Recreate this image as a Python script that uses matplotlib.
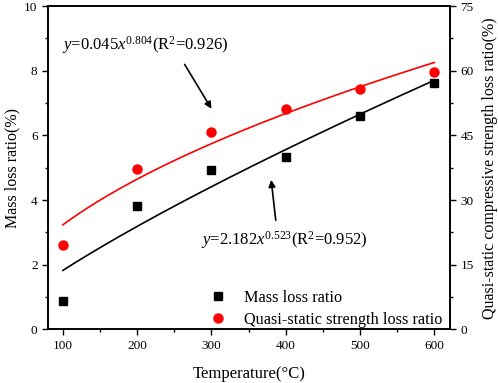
import numpy as np
import matplotlib.pyplot as plt
from matplotlib.ticker import MultipleLocator
from matplotlib.lines import Line2D

plt.rcParams['font.family'] = ['Liberation Serif', 'DejaVu Serif']
plt.rcParams['mathtext.fontset'] = 'custom'
plt.rcParams['mathtext.rm'] = 'Liberation Serif'
plt.rcParams['mathtext.it'] = 'Liberation Serif:italic'

# Data
temperature = [100, 200, 300, 400, 500, 600]
mass_loss = [0.88, 3.83, 4.93, 5.33, 6.61, 7.63]            # %, left axis
strength_loss = [19.6, 37.2, 45.8, 51.2, 55.8, 59.8]       # %, right axis

# Power-law fit parameters as printed on the chart
mass_fit = (0.045, 0.804)
strength_fit = (2.182, 0.523)

fig = plt.figure(figsize=(4.98, 3.83), dpi=100)
ax = fig.add_axes([0.0964, 0.140, 0.807, 0.844])
ax2 = ax.twinx()

t_fit = np.linspace(100, 600, 200)
ax.plot(t_fit, mass_fit[0] * t_fit ** mass_fit[1], color='black', lw=1.2, zorder=2)
ax2.plot(t_fit, strength_fit[0] * t_fit ** strength_fit[1], color='red', lw=1.2, zorder=2)

ax.plot(temperature, mass_loss, 's', color='black', ms=5.5, zorder=3)
ax2.plot(temperature, strength_loss, 'o', color='red', ms=6.5, zorder=3)

ax.set_xlim(80, 621)
ax.set_ylim(0, 10)
ax2.set_ylim(0, 75)

ax.xaxis.set_major_locator(MultipleLocator(100))
ax.xaxis.set_minor_locator(MultipleLocator(50))
ax.yaxis.set_major_locator(MultipleLocator(2))
ax.yaxis.set_minor_locator(MultipleLocator(1))
ax2.yaxis.set_major_locator(MultipleLocator(15))
ax2.yaxis.set_minor_locator(MultipleLocator(7.5))

for a in (ax, ax2):
    a.tick_params(which='major', direction='out', length=4, width=1, labelsize=9.5)
    a.tick_params(which='minor', direction='out', length=2.5, width=1)
    for s in a.spines.values():
        s.set_linewidth(1.2)

ax.set_xlabel('Temperature(°C)', fontsize=12, labelpad=10)
ax.set_ylabel('Mass loss ratio(%)', fontsize=11.5, labelpad=3)
ax2.set_ylabel('Quasi-static compressive strength loss ratio(%)', fontsize=11.5, labelpad=6)

ax.text(0.035, 0.88, r'$\mathit{y}$=0.045$\mathit{x}^{0.804}$(R$^{2}$=0.926)',
        transform=ax.transAxes, fontsize=12, ha='left', va='center')
ax.annotate('', xy=(302, 6.75), xytext=(262, 8.27),
            arrowprops=dict(arrowstyle='-|>', color='black', lw=1.2, mutation_scale=10))
ax.text(0.38, 0.275, r'$\mathit{y}$=2.182$\mathit{x}^{0.523}$(R$^{2}$=0.952)',
        transform=ax.transAxes, fontsize=12, ha='left', va='center')
ax.annotate('', xy=(380, 4.71), xytext=(387, 3.29),
            arrowprops=dict(arrowstyle='-|>', color='black', lw=1.2, mutation_scale=10))

handles = [
    Line2D([], [], marker='s', color='black', ls='none', ms=5.5),
    Line2D([], [], marker='o', color='red', ls='none', ms=6.5),
]
ax.legend(handles, ['Mass loss ratio', 'Quasi-static strength loss ratio'],
          loc='lower right', bbox_to_anchor=(1.018, -0.04), frameon=False,
          fontsize=11.7, handletextpad=1.0, labelspacing=0.35, handlelength=1.2)

fig.savefig('out.png', dpi=100)
